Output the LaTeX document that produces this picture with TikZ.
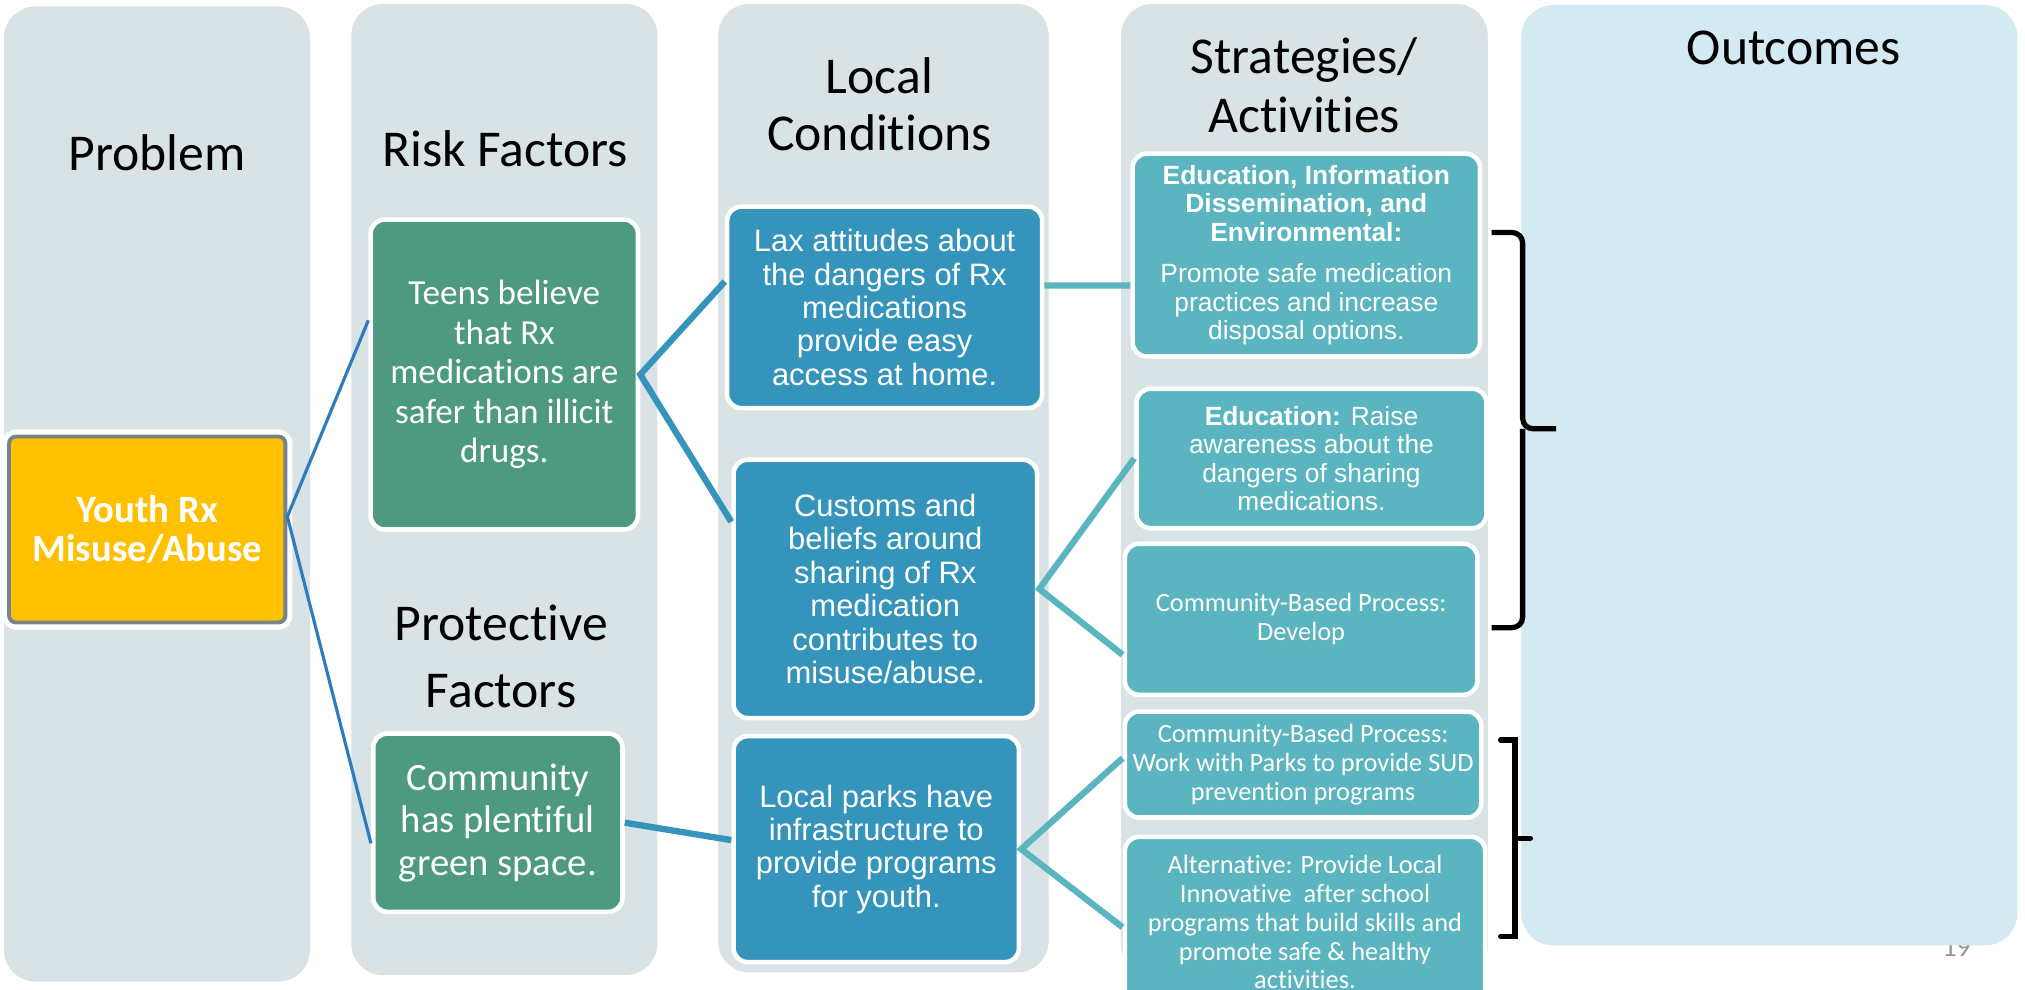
\documentclass[tikz,border=0pt]{standalone}
\usepackage{fontspec}
\setmainfont{Carlito}[Ligatures=NoCommon]
\newfontfamily\arialfont{Liberation Sans}
\usetikzlibrary{calc}

\definecolor{colgray}{HTML}{D9E2E5}
\definecolor{outblue}{HTML}{D3EAF2}
\definecolor{probyel}{HTML}{FFC000}
\definecolor{probedge}{HTML}{76858A}
\definecolor{riskgrn}{HTML}{4D9A80}
\definecolor{condblu}{HTML}{3594BB}
\definecolor{stratteal}{HTML}{5BB5C0}
\definecolor{linkblu}{HTML}{2E7CC0}

% one pixel of the slide
\newcommand{\pxu}{0.012915cm}

\tikzset{
  column/.style={fill=colgray, rounded corners=9pt},
  heading/.style={align=center, font=\fontsize{14.7}{16.2}\selectfont},
  card/.style 2 args={draw=white, line width=1.3pt, rounded corners=4pt, text=white, align=center,
    inner sep=0pt, minimum width=#1*\pxu, minimum height=#2*\pxu},
  problem/.style={card={214}{144}, fill=probyel, draw=probedge, line width=1.1pt, rounded corners=2pt,
    preaction={draw=white, line width=4pt}, font=\bfseries\fontsize{11}{11.2}\selectfont},
  risk/.style={fill=riskgrn},
  cond/.style={fill=condblu, font=\arialfont\fontsize{8.8}{9.5}\selectfont},
  strat/.style={fill=stratteal},
  arialtxt/.style={font=\arialfont\fontsize{7.5}{8.1}\selectfont},
  calitxt/.style={font=\fontsize{7.5}{8.2}\selectfont},
  problink/.style={draw=linkblu, line width=0.9pt},
  condlink/.style={draw=condblu, line width=1.8pt},
  stratlink/.style={draw=stratteal, line width=1.8pt},
  brace/.style={line width=1.5pt, rounded corners=3pt},
  sqbrace/.style={line width=1.5pt, line cap=round}
}

\begin{document}
\begin{tikzpicture}[x=0.012915cm, y=-0.012915cm]
\useasboundingbox (0,0) rectangle (1568,766);

% columns
\fill[column] (3,5) rectangle (240,760);
\fill[column] (272,3) rectangle (509,755);
\fill[column] (556,3) rectangle (812,753);
\fill[column] (868,3) rectangle (1152,757);
\node[font=\fontsize{8}{9}\selectfont, text=gray!85, anchor=base] (pgnum) at (1515,741) {19};
\fill[outblue, rounded corners=9pt] (1178,4) rectangle (1562,732);

% headings
\node[heading] (tprob) at (121.5,118) {Problem};
\node[heading] (trisk) at (391,115) {Risk Factors};
\node[heading] (tcond) at (681,81) {Local\\Conditions};
\node[heading, font=\fontsize{14.7}{16.5}\selectfont] (tstrat) at (1010,66) {Strategies/\\Activities};
\node[heading] (tout) at (1389,37) {Outcomes};
\node[heading, font=\fontsize{14.7}{19.1}\selectfont] (tprot) at (388,508) {Protective\\Factors};

% boxes
\node[problem] (youth) at (114,410) {Youth Rx\\Misuse/Abuse};

\node[card={207}{240}, risk, font=\fontsize{10}{11.2}\selectfont] (teens) at (390.5,290)
  {Teens believe\\that Rx\\medications are\\safer than illicit\\drugs.};
\node[card={193}{138}, risk, font=\fontsize{11}{12.1}\selectfont] (green) at (385.5,637)
  {Community\\has plentiful\\green space.};

\node[card={244}{156}, cond] (lax) at (685,238)
  {Lax attitudes about\\the dangers of Rx\\medications\\provide easy\\access at home.};
\node[card={235}{200}, cond] (share) at (685.5,456)
  {Customs and\\beliefs around\\sharing of Rx\\medication\\contributes to\\misuse/abuse.};
\node[card={221}{175}, cond] (parks) at (678.5,657.5)
  {Local parks have\\infrastructure to\\provide programs\\for youth.};

\node[card={269}{157}, strat, arialtxt] (edinfo) at (1011.5,197.5)
  {\textbf{Education, Information}\\\textbf{Dissemination, and}\\\textbf{Environmental:}\\[3.7pt]
   Promote safe medication\\practices and increase\\disposal options.};
\node[card={271}{108}, strat, arialtxt] (edraise) at (1015.5,355)
  {\textbf{Education:} Raise\\awareness about the\\dangers of sharing\\medications.};
\node[card={273}{117}, strat, calitxt] (develop) at (1007.5,479.5)
  {Community-Based Process:\\Develop};
\node[card={276}{82}, strat, calitxt] (parkwork) at (1009,592)
  {Community-Based Process:\\Work with Parks to provide SUD\\prevention programs};
\node[card={279}{132}, strat, calitxt] (altern) at (1010.5,714)
  {Alternative: Provide Local\\Innovative\ \ after school\\programs that build skills and\\promote safe \& healthy\\activities.};

% connectors
\draw[problink] ($(teens.west)+(0,-42)$) -- ($(youth.east)+(0,-10)$) -- ($(green.west)+(0,16)$);
\draw[condlink] ($(lax.west)+(0,-20)$) -- (teens.east) -- ($(share.west)+(0,-52)$);
\draw[condlink] (green.east) -- ($(parks.west)+(0,-7)$);
\draw[stratlink] ($(lax.east)+(0,-17)$) -- ($(edinfo.west)+(0,23.5)$);
\draw[stratlink] (edraise.west) -- (share.east) -- ($(develop.west)+(0,27.5)$);
\draw[stratlink] ($(parkwork.west)+(0,-5)$) -- (parks.east) -- ($(altern.west)+(0,4)$);

% brackets
\draw[brace] (1155,180) -| (1179,332) -- (1205,332);
\draw[brace] (1179,332) |- (1155,486);
\draw[sqbrace] (1162,573) -| (1173,725) -- (1162,725);
\draw[sqbrace] (1173,649) -- (1185,649);

\end{tikzpicture}
\end{document}
